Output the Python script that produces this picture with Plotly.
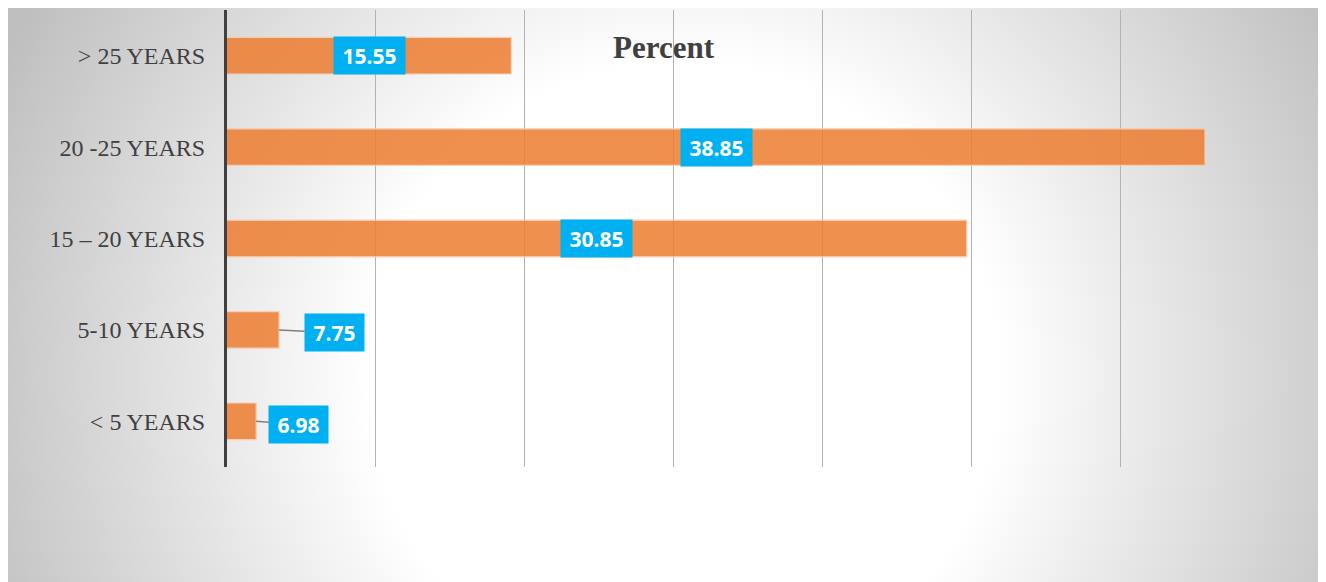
import base64
import plotly.graph_objects as go

# ---- data ----
categories = ["> 25 YEARS", "20 -25 YEARS", "15 – 20 YEARS", "5-10 YEARS", "< 5 YEARS"]
percent = [15.55, 38.85, 30.85, 7.75, 6.98]
value_labels = ["15.55", "38.85", "30.85", "7.75", "6.98"]
title_text = "Percent"

X_MIN, X_MAX, X_STEP = 6, 41, 5

# style: pixel gap between bar end and outside labels
leader_gap = {"7.75": 26, "6.98": 13}

W, H = 1326, 582
OFF = 8  # page body margin

# ---- background radial gradient (svg image) ----
bg_w, bg_h = 1313, 582
svg = f'''<svg xmlns="http://www.w3.org/2000/svg" width="{bg_w}" height="{bg_h}" viewBox="0 0 {bg_w} {bg_h}" preserveAspectRatio="none">
<defs><radialGradient id="g" gradientUnits="userSpaceOnUse" cx="675" cy="370" r="750">
<stop offset="0" stop-color="#ffffff"/><stop offset="0.42" stop-color="#ffffff"/>
<stop offset="1" stop-color="#bfbfbf"/></radialGradient></defs>
<rect x="0" y="0" width="{bg_w}" height="{bg_h}" fill="url(#g)"/></svg>'''
src = "data:image/svg+xml;base64," + base64.b64encode(svg.encode()).decode()

fig = go.Figure()
fig.add_trace(go.Bar(
    y=categories, x=percent, orientation="h",
    marker=dict(color="#ED7D31", opacity=0.85, line=dict(color="#f8cbad", width=1.2)),
    width=0.4, hoverinfo="skip", showlegend=False,
))

annotations = []
for cat, v, lab in zip(categories, percent, value_labels):
    bw = 12 * len(lab) + 11
    common = dict(text=f"<b>{lab}</b>", font=dict(family="Open Sans", size=21, color="white"),
                  bgcolor="#00B0F0", width=bw, height=37, borderpad=0, xref="x", yref="y")
    if v - X_MIN > 5:
        annotations.append(dict(x=(X_MIN + v) / 2, y=cat, showarrow=False, **common))
    else:
        annotations.append(dict(x=v, y=cat, showarrow=True, arrowhead=0, arrowwidth=1.5,
                                arrowcolor="#7f7f7f", ax=bw / 2 + leader_gap.get(lab, 20), ay=3,
                                axref="pixel", ayref="pixel", standoff=0, **common))

annotations.append(dict(text=f"<b>{title_text}</b>", x=(664 - OFF) / W, y=1 - (48 - OFF) / H,
                        xref="paper", yref="paper", showarrow=False,
                        font=dict(family="Liberation Serif", size=31, color="#404040"),
                        xanchor="center", yanchor="middle"))

fig.update_layout(
    width=W, height=H,
    margin=dict(l=0, r=0, t=0, b=0),
    paper_bgcolor="white", plot_bgcolor="rgba(0,0,0,0)",
    images=[dict(source=src, xref="paper", yref="paper", x=0, y=1,
                 sizex=bg_w / W, sizey=bg_h / H, sizing="stretch", layer="below",
                 xanchor="left", yanchor="top")],
    xaxis=dict(domain=[(227 - OFF) / W, (1269 - OFF) / W], range=[X_MIN, X_MAX], tick0=X_MIN, dtick=X_STEP,
               showgrid=True, gridcolor="#b3b3b3", gridwidth=1, showticklabels=False,
               zeroline=False, showline=False, ticks=""),
    yaxis=dict(domain=[1 - (467 - OFF) / H, 1 - (10 - OFF) / H], autorange="reversed", showgrid=False,
               showline=True, linecolor="#404040", linewidth=3, ticks="",
               tickfont=dict(family="Liberation Serif", size=24, color="#404040"),
               ticklabelstandoff=14),
    annotations=annotations,
    bargap=0.6,
)

fig.write_html("out.html")
